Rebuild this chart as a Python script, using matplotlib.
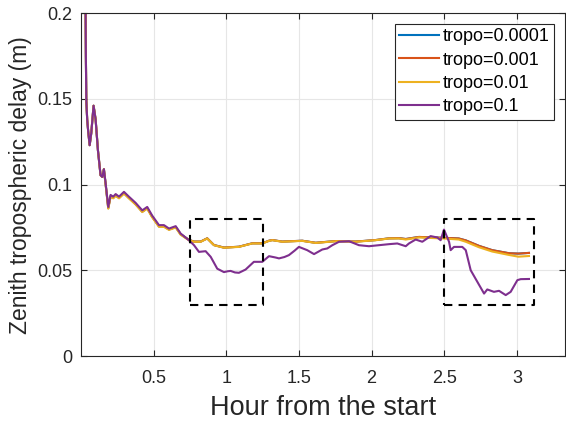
import numpy as np
import matplotlib
matplotlib.use('Agg')
import matplotlib.pyplot as plt

plt.rcParams['font.family'] = ['Liberation Sans', 'DejaVu Sans']

# tropo=0.1 (purple)
hour_p = [0.030, 0.034, 0.037, 0.043, 0.050, 0.060, 0.071, 0.087, 0.101, 0.117, 0.135,
          0.147, 0.158, 0.170, 0.188, 0.204, 0.222, 0.239, 0.262, 0.296, 0.330, 0.376,
          0.422, 0.456, 0.490, 0.537, 0.571, 0.606, 0.652, 0.686, 0.743, 0.778, 0.812,
          0.858, 0.893, 0.938, 0.984, 1.010, 1.030, 1.060, 1.087, 1.133, 1.190, 1.248,
          1.294, 1.340, 1.363, 1.400, 1.431, 1.470, 1.500, 1.557, 1.604, 1.661, 1.695,
          1.730, 1.776, 1.845, 1.913, 1.982, 2.051, 2.120, 2.177, 2.235, 2.257, 2.303,
          2.349, 2.406, 2.452, 2.475, 2.498, 2.533, 2.544, 2.567, 2.624, 2.648, 2.682,
          2.728, 2.774, 2.796, 2.842, 2.877, 2.923, 2.957, 3.003, 3.026, 3.083]
ztd_p = [0.230, 0.175, 0.149, 0.138, 0.131, 0.123, 0.130, 0.146, 0.138, 0.120, 0.1055,
         0.1045, 0.109, 0.1007, 0.087, 0.094, 0.093, 0.0945, 0.093, 0.0958, 0.093, 0.0894,
         0.085, 0.087, 0.082, 0.0764, 0.0764, 0.0744, 0.0758, 0.0715, 0.0676, 0.0647, 0.0608,
         0.0612, 0.0579, 0.051, 0.049, 0.0495, 0.0497, 0.0488, 0.0486, 0.0505, 0.055, 0.055,
         0.0583, 0.0575, 0.057, 0.0578, 0.0589, 0.0615, 0.0637, 0.0618, 0.0595, 0.0622, 0.0628,
         0.0647, 0.0667, 0.067, 0.0647, 0.0641, 0.0647, 0.0653, 0.0657, 0.0641, 0.0657, 0.068,
         0.0667, 0.070, 0.0692, 0.0676, 0.0738, 0.0667, 0.0618, 0.0637, 0.0637, 0.0618, 0.0501,
         0.0433, 0.0365, 0.0389, 0.0375, 0.0381, 0.0356, 0.0375, 0.0443, 0.0449, 0.045]

# tropo=0.01 (yellow); 0.001 and 0.0001 follow it closely
hour_y = [0.030, 0.034, 0.037, 0.043, 0.050, 0.060, 0.071, 0.087, 0.101, 0.117, 0.135,
          0.147, 0.158, 0.170, 0.188, 0.204, 0.222, 0.239, 0.262, 0.296, 0.330, 0.376,
          0.422, 0.456, 0.490, 0.537, 0.571, 0.606, 0.652, 0.686, 0.743, 0.778, 0.824,
          0.869, 0.915, 0.984, 1.087, 1.179, 1.248, 1.294, 1.317, 1.385, 1.523, 1.615,
          1.753, 1.890, 2.028, 2.120, 2.189, 2.235, 2.326, 2.498, 2.600, 2.648, 2.739,
          2.830, 2.946, 3.010, 3.083]
ztd_y = [0.230, 0.175, 0.149, 0.138, 0.131, 0.123, 0.130, 0.146, 0.138, 0.120, 0.1055,
         0.1045, 0.109, 0.1000, 0.086, 0.093, 0.092, 0.0935, 0.092, 0.0948, 0.092, 0.0884,
         0.084, 0.086, 0.081, 0.0754, 0.0754, 0.0736, 0.0750, 0.0708, 0.0676, 0.0667, 0.0667,
         0.0686, 0.0647, 0.0632, 0.0637, 0.0657, 0.0657, 0.0672, 0.0676, 0.0667, 0.0672, 0.066,
         0.067, 0.0667, 0.0676, 0.0686, 0.0686, 0.068, 0.0692, 0.0686, 0.068, 0.0667, 0.0635,
         0.0610, 0.0590, 0.0580, 0.0584]
ztd_o = [0.230, 0.175, 0.149, 0.138, 0.131, 0.123, 0.130, 0.146, 0.138, 0.120, 0.1055,
         0.1045, 0.109, 0.1002, 0.0863, 0.0933, 0.0923, 0.0938, 0.0923, 0.0951, 0.0923, 0.0887,
         0.0843, 0.0863, 0.0813, 0.0757, 0.0757, 0.0739, 0.0753, 0.0711, 0.0678, 0.0668, 0.0668,
         0.0687, 0.0648, 0.0633, 0.0638, 0.0658, 0.0658, 0.0673, 0.0677, 0.0668, 0.0673, 0.0661,
         0.0671, 0.0668, 0.0677, 0.0687, 0.0688, 0.0683, 0.0695, 0.0690, 0.0686, 0.0675, 0.0643,
         0.0618, 0.0600, 0.0598, 0.0602]

labels = ['tropo=0.0001', 'tropo=0.001', 'tropo=0.01', 'tropo=0.1']
colors = ['#0072BD', '#D95319', '#EDB120', '#7E2F8E']

# dashed boxes (hour range, ztd range)
box1_x = [0.75, 1.25]
box2_x = [2.5, 3.12]
box_y = [0.03, 0.08]

fig = plt.figure(figsize=(5.66, 4.23), dpi=100)
ax = fig.add_axes([0.143, 0.158, 0.855, 0.811])

ax.plot(hour_y, ztd_o, color=colors[0], lw=1.5, label=labels[0])
ax.plot(hour_y, ztd_o, color=colors[1], lw=1.5, label=labels[1])
ax.plot(hour_y, ztd_y, color=colors[2], lw=1.5, label=labels[2])
ax.plot(hour_p, ztd_p, color=colors[3], lw=1.5, label=labels[3])

for bx in [box1_x, box2_x]:
    ax.plot([bx[0], bx[1], bx[1], bx[0], bx[0]],
            [box_y[0], box_y[0], box_y[1], box_y[1], box_y[0]],
            'k--', lw=1.5, dashes=(4, 3))

ax.set_xlim(0, 3.33)
ax.set_ylim(0, 0.2)
ax.set_xticks([0.5, 1, 1.5, 2, 2.5, 3])
ax.set_xticklabels(['0.5', '1', '1.5', '2', '2.5', '3'])
ax.set_yticks([0, 0.05, 0.1, 0.15, 0.2])
ax.set_yticklabels(['0', '0.05', '0.1', '0.15', '0.2'])
ax.grid(True, color='#E6E6E6', lw=0.8)
ax.set_axisbelow(True)
ax.tick_params(direction='in', top=True, right=True, labelsize=13, colors='#262626', length=4)
ax.tick_params(axis='x', pad=10)
ax.tick_params(axis='y', pad=6)
for s in ax.spines.values():
    s.set_color('#262626')
    s.set_linewidth(0.8)

ax.set_xlabel('Hour from the start', fontsize=19.5, color='#262626', labelpad=6)
ax.set_ylabel('Zenith tropospheric delay (m)', fontsize=16.5, color='#262626', labelpad=4)

leg = ax.legend(loc='upper right', fontsize=13, frameon=True, fancybox=False,
                edgecolor='#262626', framealpha=1, handlelength=2.2, handletextpad=0.2,
                borderpad=0.25, labelspacing=0.35, borderaxespad=0.6)
leg.get_frame().set_linewidth(0.8)

fig.savefig('out.png', dpi=100)
